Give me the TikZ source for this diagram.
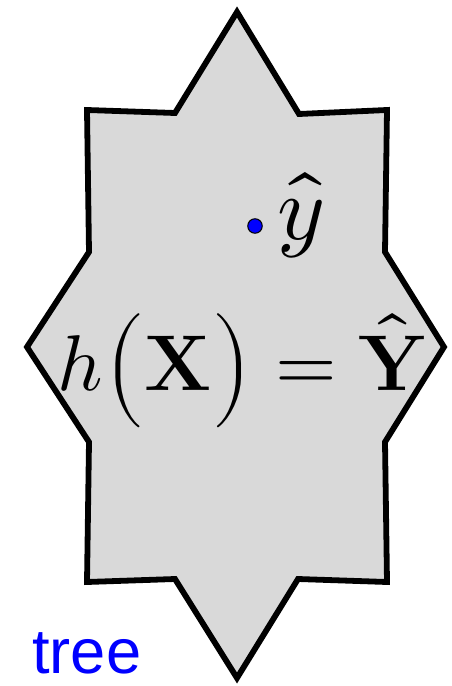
\documentclass[tikz,border=0pt]{standalone}
\usepackage{amsmath}
\usepackage{fontspec}
\usepackage{unicode-math}
\setmathfont{Latin Modern Math}
\newfontfamily\labfont{Liberation Sans}
\usepackage{tikz}
\definecolor{regionfill}{gray}{0.85}
\definecolor{treeblue}{rgb}{0,0,1}
\newcommand{\tallpar}{\vrule height 0.98em depth 0.2em width 0pt}
\tikzset{
  region/.style={fill=regionfill,draw=black,line width=3.3pt,line join=miter},
  eqn/.style={font=\fontsize{45}{54}\selectfont,inner sep=0pt},
  predlab/.style={font=\fontsize{52}{60}\selectfont,inner sep=0pt},
  ptdot/.style={draw=black,circle,fill=blue,line width=0.6pt,inner sep=0pt,minimum size=0.29cm},
  treelab/.style={font=\labfont\fontsize{36}{40}\selectfont,text=treeblue,inner sep=0pt},
}
\begin{document}
\begin{tikzpicture}[x=0.02cm,y=0.02cm]
  \useasboundingbox (0,0) rectangle (452,-686);
  \draw[region] (237,-12) -- (299,-114) -- (387,-110) -- (385,-252) -- (444,-347)
    -- (385,-442) -- (387,-582) -- (298,-579) -- (237,-678) -- (175,-579)
    -- (87,-582) -- (89,-442) -- (27,-347) -- (89,-252) -- (87,-110)
    -- (175,-113) -- cycle;
  \node[ptdot] (yhatpt) at (255,-226) {};
  \node[predlab,anchor=base west] (yhat) at (277,-239) {$\hat{y}$};
  \node[eqn,anchor=base] (hx) at (242,-390) {$h{\left(\tallpar\mathbf{X}\right)} = \hat{\mathbf{Y}}$};
  \node[treelab,anchor=base west] (tree) at (32,-673) {tree};
\end{tikzpicture}
\end{document}
